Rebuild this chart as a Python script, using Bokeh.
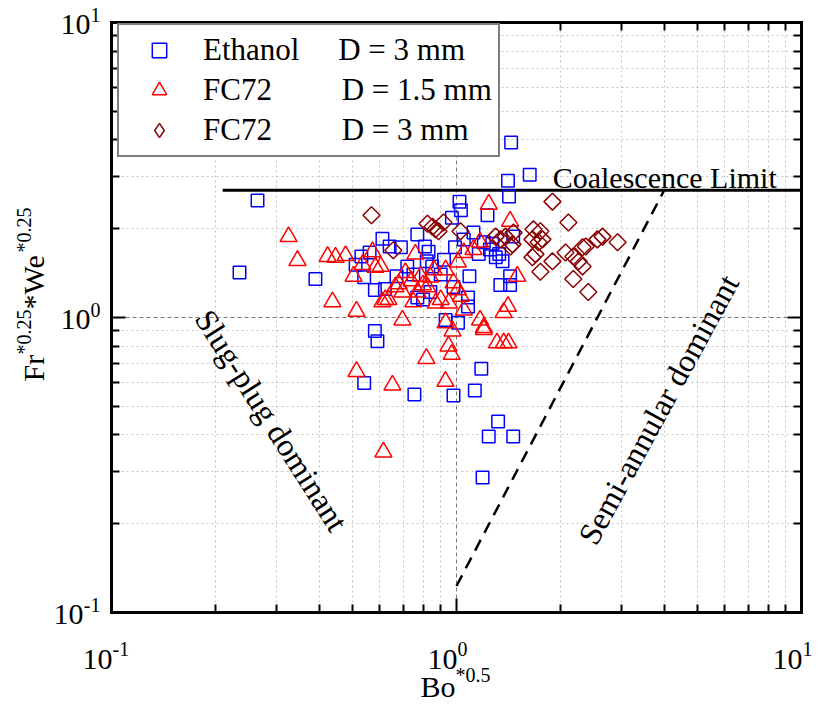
import numpy as np
from bokeh.plotting import figure
from bokeh.models import (Range1d, FixedTicker, LogAxis, Label, Legend, LegendItem,
                          CustomJSTickFormatter, ColumnDataSource)
from bokeh.embed import file_html
from bokeh.resources import INLINE

FONT = "Liberation Serif"

# ---------------- data ----------------
ethanol_bo = [1.44, 1.63, 1.41, 1.42, 0.265, 1.02, 1.03, 0.97, 1.23, 1.46,
              1.12, 1.20, 0.81, 0.83, 0.92, 0.99, 1.05, 1.09, 1.30, 1.36,
              1.43, 1.34, 1.43, 0.98, 0.84, 1.08, 1.08, 0.93, 1.01, 0.82,
              0.85, 0.61, 0.64, 0.69, 0.77, 0.53, 0.56, 0.54, 0.58, 0.62,
              0.67, 0.72, 0.75, 0.77, 0.80, 0.39, 0.235, 0.58, 0.59, 0.54,
              0.755, 0.98, 1.18, 1.13, 1.32, 1.24, 1.46, 1.19, 0.90, 1.16,
              1.25, 0.51, 1.27, 1.33]
ethanol_frwe = [3.92, 3.05, 2.91, 2.57, 2.49, 2.47, 2.31, 2.18, 2.22, 1.88,
                1.94, 1.80, 1.74, 1.67, 1.57, 1.73, 1.84, 1.38, 1.60, 1.55,
                1.38, 1.29, 1.29, 1.27, 1.22, 1.17, 1.09, 0.98, 0.96, 1.55,
                1.49, 1.85, 1.74, 1.73, 1.91, 1.61, 1.66, 1.37, 1.24, 1.25,
                1.38, 1.49, 1.40, 1.17, 1.15, 1.35, 1.42, 0.90, 0.83, 0.60,
                0.548, 0.544, 0.67, 0.566, 0.444, 0.395, 0.395, 0.287, 1.40, 1.64,
                1.70, 1.51, 1.78, 1.64]

fc72_15_bo = [0.326, 0.346, 0.423, 0.446, 0.477, 0.437, 0.513, 0.503, 0.534, 0.571,
              0.582, 0.603, 0.61, 0.622, 0.635, 0.665, 0.697, 0.711, 0.76, 0.787,
              0.75, 0.771, 0.697, 0.824, 1.24, 1.17, 1.12, 1.05, 1.01, 0.93,
              0.86, 0.84, 0.80, 0.98, 1.01, 0.90, 0.87, 0.95, 1.03, 1.05,
              0.974, 0.93, 1.17, 1.20, 1.37, 1.43, 1.50, 1.31, 1.37, 1.415,
              1.20, 1.41, 0.513, 0.652, 0.818, 0.929, 0.614, 0.948, 0.968, 0.68,
              0.74]
fc72_15_frwe = [1.88, 1.56, 1.61, 1.60, 1.62, 1.13, 1.05, 1.38, 1.51, 1.67,
                1.48, 1.49, 1.13, 1.15, 1.15, 1.27, 1.22, 1.42, 1.64, 1.38,
                1.13, 1.22, 0.98, 1.27, 2.42, 1.80, 1.70, 1.66, 1.54, 1.45,
                1.45, 1.37, 1.29, 1.31, 1.24, 1.15, 1.12, 1.12, 1.18, 1.06,
                0.90, 0.96, 0.98, 0.925, 1.04, 2.12, 1.38, 0.82, 0.82, 0.82,
                0.91, 1.09, 0.656, 0.59, 0.726, 0.607, 0.35, 0.80, 0.75, 1.30,
                1.33]

fc72_3_bo = [0.567, 0.656, 0.824, 0.852, 0.869, 0.887, 0.917, 1.027, 1.298, 1.387,
             1.434, 1.463, 1.342, 1.453, 1.66, 1.671, 1.729, 1.75, 1.775, 1.694,
             1.66, 1.75, 1.897, 1.897, 2.07, 2.11, 2.18, 2.26, 2.32, 2.37,
             2.32, 2.18, 2.41, 2.56, 2.65, 2.93]
fc72_3_frwe = [2.22, 1.69, 2.08, 2.03, 1.99, 1.96, 2.10, 1.96, 1.88, 1.88,
               1.74, 1.94, 1.84, 1.77, 1.84, 1.99, 1.80, 1.96, 1.84, 1.64,
               1.60, 1.43, 2.47, 1.55, 1.66, 2.10, 1.61, 1.55, 1.73, 1.74,
               1.49, 1.35, 1.22, 1.84, 1.88, 1.80]

coalescence_bo = [0.21, 10.0]
coalescence_frwe = [2.7, 2.7]
boundary_bo = [1.0, 4.0]
boundary_frwe = [0.123, 2.7]

axis_min, axis_max = 0.1, 10.0
major_ticks = [0.1, 1.0, 10.0]
minor_ticks = [0.2, 0.3, 0.4, 0.5, 0.6, 0.7, 0.8, 0.9,
               2, 3, 4, 5, 6, 7, 8, 9]
tick_exponents = ["-1", "0", "1"]

legend_labels = ["Ethanol" + "\u00a0" * 5 + "D = 3 mm",
                 "FC72" + "\u00a0" * 9 + "D = 1.5 mm",
                 "FC72" + "\u00a0" * 9 + "D = 3 mm"]

BLUE, RED, DARKRED = "#0000FF", "#FF0000", "#8B0000"

# ---------------- layout geometry (pixels) ----------------
W, H = 821, 704
BOX_L, BOX_R, BOX_T, BOX_B = 111, 801, 22, 612   # visible plot box
dec_x = (BOX_R - BOX_L) / 2.0
dec_y = (BOX_B - BOX_T) / 2.0
x_lo = 10 ** (-1 - BOX_L / dec_x)
x_hi = 10 ** (1 + (W - BOX_R) / dec_x)
y_lo = 10 ** (-1 - (H - BOX_B) / dec_y)
y_hi = 10 ** (1 + BOX_T / dec_y)

p = figure(width=W, height=H, x_axis_type="log", y_axis_type="log",
           x_range=Range1d(x_lo, x_hi), y_range=Range1d(y_lo, y_hi),
           output_backend="svg", toolbar_location=None, min_border=0)
p.background_fill_color = "white"
p.border_fill_color = "white"
p.outline_line_color = None

ticker = FixedTicker(ticks=major_ticks, minor_ticks=minor_ticks)


def style_axis(ax, loc):
    ax.fixed_location = loc
    ax.bounds = (axis_min, axis_max)
    ax.ticker = ticker
    ax.formatter = CustomJSTickFormatter(code="return ''")
    ax.axis_label = None
    ax.axis_line_color = "black"
    ax.axis_line_width = 3
    ax.axis_line_cap = "square"
    ax.major_tick_in = 14
    ax.major_tick_out = 0
    ax.minor_tick_in = 8
    ax.minor_tick_out = 0
    ax.major_tick_line_width = 2
    ax.minor_tick_line_width = 2
    ax.major_tick_line_color = "black"
    ax.minor_tick_line_color = "black"
    ax.major_label_standoff = 0


style_axis(p.xaxis[0], axis_min)
style_axis(p.yaxis[0], axis_min)
top_axis = LogAxis()
right_axis = LogAxis()
style_axis(top_axis, axis_max)
style_axis(right_axis, axis_max)
p.add_layout(top_axis, "above")
p.add_layout(right_axis, "right")

for g in (p.xgrid[0], p.ygrid[0]):
    g.ticker = ticker
    g.bounds = (axis_min, axis_max)
    g.cross_bounds = (axis_min, axis_max)
    g.grid_line_color = "#7a7a7a"
    g.grid_line_dash = "4 3"
    g.grid_line_width = 1
    g.minor_grid_line_color = "#c4c4c4"
    g.minor_grid_line_dash = "2 3"
    g.minor_grid_line_width = 1

# limit lines
p.line(coalescence_bo, coalescence_frwe, line_color="black", line_width=3)
p.line(boundary_bo, boundary_frwe, line_color="black", line_width=2.5,
       line_dash="12 8")

# data
r_eth = p.scatter(ethanol_bo, ethanol_frwe, marker="square", size=12.5,
                  line_color=BLUE, fill_color=None, line_width=1.5)
r_f15 = p.scatter(fc72_15_bo, fc72_15_frwe, marker="triangle", size=17,
                  line_color=RED, fill_color=None, line_width=1.5)
r_f3 = p.scatter(fc72_3_bo, fc72_3_frwe, marker="square", angle=np.pi / 4,
                 size=12, line_color=DARKRED, fill_color=None, line_width=1.5)
# legend-only key glyph (legend glyphs are never rotated, so use a diamond marker);
# its single point is NaN so nothing is drawn in the plot itself
r_f3_key = p.scatter(x="x", y="y",
                     source=ColumnDataSource(dict(x=[float("nan")], y=[float("nan")])),
                     marker="diamond", size=12, line_color=DARKRED,
                     fill_color=None, line_width=1.5)

legend = Legend(items=[LegendItem(label=legend_labels[0], renderers=[r_eth]),
                       LegendItem(label=legend_labels[1], renderers=[r_f15]),
                       LegendItem(label=legend_labels[2], renderers=[r_f3_key])],
                location=(117, H - 157))
legend.margin = 0
legend.padding = 6
legend.spacing = 2
legend.glyph_width = 68
legend.glyph_height = 36
legend.label_height = 38
legend.label_standoff = 10
legend.label_text_font = FONT
legend.label_text_font_size = "31px"
legend.label_text_color = "black"
legend.border_line_color = "black"
legend.border_line_width = 2
legend.background_fill_color = "white"
legend.background_fill_alpha = 1.0
p.add_layout(legend)


def add_text(text, x, y, size, align="left", baseline="alphabetic",
             angle=0.0, xo=0, yo=0):
    p.add_layout(Label(x=x, y=y, text=text, text_align=align,
                       text_baseline=baseline, angle=angle, x_offset=xo,
                       y_offset=yo, text_font=FONT, text_font_size=size,
                       text_color="black"))


# annotations
add_text("Coalescence Limit", 1.9, 2.98, "30px")
add_text("Slug-plug dominant", 0.291, 0.448, "32px", align="center",
         baseline="middle", angle=-1.004)
add_text("Semi-annular dominant", 3.85, 0.488, "32px", align="center",
         baseline="middle", angle=1.073)

# tick labels (10 with superscript exponents)
sup_w = {"-1": 17, "0": 10, "1": 10}
for v, e in zip(major_ticks, tick_exponents):
    add_text("10", v, axis_min, "30px", align="right", xo=1, yo=-47)
    add_text(e, v, axis_min, "20px", align="left", xo=1, yo=-36)
    add_text(e, axis_min, v, "20px", align="right", xo=-11, yo=8)
    add_text("10", axis_min, v, "30px", align="right", xo=-11 - sup_w[e], yo=-2)

# x axis title
add_text("Bo", 1.0, axis_min, "30px", align="right", xo=-1, yo=-74)
add_text("*0.5", 1.0, axis_min, "20px", align="left", xo=-1, yo=-62)

# y axis title (rotated), built bottom to top
ytitle = [("Fr", "30px", -78, -64), ("*0.25", "20px", -88, -37),
          ("*We", "30px", -78, 8), ("*0.25", "20px", -88, 65)]
for txt, fs, xo, yo in ytitle:
    add_text(txt, axis_min, 1.0, fs, align="left", angle=np.pi / 2, xo=xo, yo=yo)

open("out.html", "w").write(file_html(p, INLINE))
